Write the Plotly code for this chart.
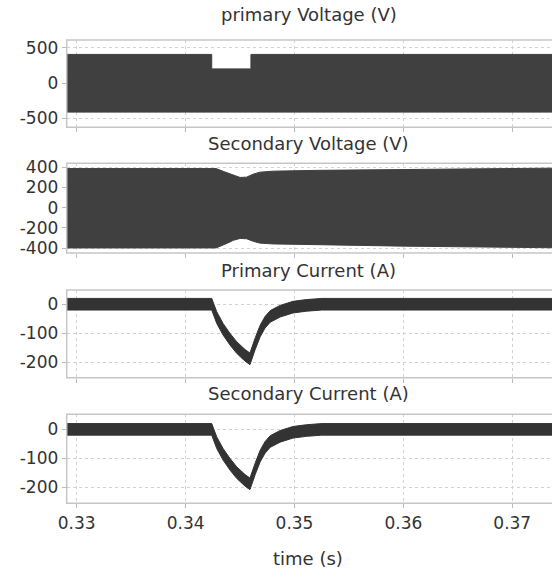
import plotly.graph_objects as go

# ---- data (envelopes of the switching waveforms) ----
# primary voltage: upper / lower envelope of the PWM block
pv_t = [0.32908, 0.3424, 0.3424, 0.3460, 0.3460, 0.3737]
pv_upper = [405, 405, 200, 200, 405, 405]
pv_lower = [-412, -412, -412, -412, -412, -412]

# secondary voltage envelope
sv_t = [0.32908, 0.3428, 0.3436, 0.3444, 0.3450, 0.3456, 0.3462, 0.3468, 0.3480, 0.3520, 0.3600, 0.3737]
sv_upper = [388, 388, 355, 320, 300, 303, 332, 352, 362, 370, 380, 392]
sv_lower = [-398, -398, -362, -322, -304, -307, -332, -350, -358, -366, -380, -396]

# current centre lines (A) and ripple half-width
ic_t = [0.32908, 0.3424, 0.34286, 0.34344, 0.34407, 0.34469, 0.34546, 0.34591,
        0.34640, 0.34685, 0.34730, 0.34777, 0.34868, 0.34987, 0.3511, 0.3525, 0.3737]
ip_centre = [0, 0, -46, -86, -120, -149, -176, -188,
             -135, -92, -62, -42, -24, -10, -4, 0, 0]
is_centre = [0, 0, -46, -86, -120, -149, -176, -188,
             -135, -92, -62, -42, -24, -10, -4, 0, 0]
ripple = 20

titles = ["primary Voltage (V)", "Secondary Voltage (V)",
          "Primary Current (A)", "Secondary Current (A)"]
x_ticks = [0.33, 0.34, 0.35, 0.36, 0.37]
x_labels = ["0.33", "0.34", "0.35", "0.36", "0.37"]
y_ticks = [[500, 0, -500], [400, 200, 0, -200, -400], [0, -100, -200], [0, -100, -200]]
y_labels = [["500", "0", "-500"], ["400", "200", "0", "-200", "-400"],
            ["0", "-100", "-200"], ["0", "-100", "-200"]]
y_ranges = [[-627, 609], [-448, 440], [-253, 49], [-255, 52]]

# ---- layout geometry (pixels) ----
W, H = 552, 572
panel_px = [(40, 127.3), (163.3, 253), (290, 377.7), (414.3, 503.3)]
title_px = [14, 143, 270, 393]
x_left = 66.7 / W
x_range = [0.32908, 0.37365]

V_INK = "#404040"
I_INK = "#333333"
TXT = "#333333"
GRID = "#d2d2d2"
FRAME = "#c6c6c6"
FONT = "DejaVu Sans"

fig = go.Figure()


def band(idx, t, lo, hi, ink):
    ax = "" if idx == 1 else str(idx)
    fig.add_trace(go.Scatter(x=t, y=lo, mode="lines", line=dict(color=ink, width=1),
                             xaxis="x" + ax, yaxis="y" + ax, showlegend=False,
                             hoverinfo="skip"))
    fig.add_trace(go.Scatter(x=t, y=hi, mode="lines", line=dict(color=ink, width=1),
                             fill="tonexty", fillcolor=ink,
                             xaxis="x" + ax, yaxis="y" + ax, showlegend=False,
                             hoverinfo="skip"))


band(1, pv_t, pv_lower, pv_upper, V_INK)
band(2, sv_t, sv_lower, sv_upper, V_INK)
band(3, ic_t, [v - ripple for v in ip_centre], [v + ripple for v in ip_centre], I_INK)
band(4, ic_t, [v - ripple for v in is_centre], [v + ripple for v in is_centre], I_INK)

layout = dict(
    width=W, height=H,
    margin=dict(l=0, r=0, t=0, b=0),
    paper_bgcolor="white", plot_bgcolor="white",
    font=dict(family=FONT, color=TXT, size=17),
    showlegend=False,
    annotations=[],
    shapes=[],
)

for i in range(4):
    n = i + 1
    ax = "" if n == 1 else str(n)
    top, bot = panel_px[i]
    y0, y1 = 1 - bot / H, 1 - top / H
    layout["xaxis" + ax] = dict(
        domain=[x_left, 1.0], range=x_range, anchor="y" + ax, automargin=False,
        tickvals=x_ticks, ticktext=x_labels,
        showticklabels=(n == 4), ticks="outside", ticklen=4, tickcolor="#bbbbbb",
        showgrid=True, gridcolor=GRID, griddash="dot", gridwidth=1,
        showline=False, zeroline=False,
        tickfont=dict(size=17, color=TXT, family=FONT),
    )
    layout["yaxis" + ax] = dict(
        domain=[y0, y1], range=y_ranges[i], anchor="x" + ax, automargin=False,
        tickvals=y_ticks[i], ticktext=y_labels[i], ticks="outside", ticklen=4,
        tickcolor="#bbbbbb",
        showgrid=True, gridcolor=GRID, griddash="dot", gridwidth=1,
        showline=False, zeroline=False,
        tickfont=dict(size=17, color=TXT, family=FONT),
    )
    # panel frame; its right side runs past the page edge
    layout["shapes"].append(dict(
        type="rect", xref="paper", yref="paper",
        x0=x_left, x1=1.02, y0=y0, y1=y1,
        line=dict(color=FRAME, width=1.5), fillcolor="rgba(0,0,0,0)", layer="above",
    ))
    layout["annotations"].append(dict(
        text=titles[i], xref="paper", yref="paper",
        x=308.5 / W, y=1 - title_px[i] / H, xanchor="center", yanchor="middle",
        showarrow=False, font=dict(size=18, color=TXT, family=FONT),
    ))

layout["annotations"].append(dict(
    text="time (s)", xref="paper", yref="paper",
    x=308 / W, y=1 - 558 / H, xanchor="center", yanchor="middle",
    showarrow=False, font=dict(size=18, color=TXT, family=FONT),
))

fig.update_layout(**layout)
fig.write_html("out.html")
